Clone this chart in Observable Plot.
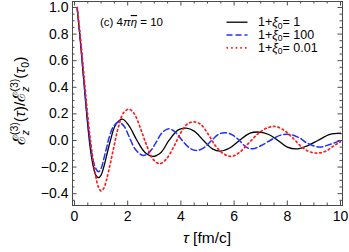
<!DOCTYPE html>
<html><head><meta charset="utf-8">
<script src="https://cdn.jsdelivr.net/npm/d3@7"></script>
<script src="https://cdn.jsdelivr.net/npm/@observablehq/plot@0.6"></script>
<style>
body{margin:0;background:#fff}
svg{font-family:"Liberation Sans",Arial,sans-serif}
</style>
</head><body><div id="chart"></div>
<script>
// ---- data ----
const tauBlack = [0.1,0.2,0.3,0.4,0.5,0.6,0.7,0.8,0.9,1.0,1.1,1.2,1.35,1.55,1.8,2.05,2.35,2.65,2.95,3.25,3.55,3.9,4.2,4.5,4.85,5.2,5.5,5.85,6.2,6.6,6.95,7.3,7.65,8.0,8.4,8.75,9.15,9.6,10.0];
const valBlack = [1.0,0.79,0.56,0.33,0.11,-0.07,-0.19,-0.26,-0.28,-0.26,-0.2,-0.12,0.0,0.12,0.16,0.11,0.0,-0.09,-0.12,-0.09,0.0,0.08,0.093,0.07,0.0,-0.065,-0.08,-0.055,0.0,0.055,0.063,0.045,0.0,-0.05,-0.063,-0.04,0.0,0.045,0.055];

const tauBlue = [0.1,0.2,0.3,0.4,0.5,0.6,0.7,0.8,0.9,1.0,1.1,1.2,1.3,1.45,1.65,1.85,2.05,2.3,2.6,2.85,3.05,3.3,3.55,3.8,4.05,4.35,4.6,4.9,5.15,5.45,5.7,5.95,6.2,6.45,6.7,7.0,7.35,7.75,8.1,8.45,8.75,9.2,9.6,10.0];
const valBlue = [1.0,0.8,0.58,0.35,0.14,-0.03,-0.15,-0.21,-0.235,-0.21,-0.14,-0.06,0.02,0.1,0.138,0.11,0.03,-0.07,-0.113,-0.08,-0.02,0.06,0.088,0.06,0.0,-0.06,-0.075,-0.05,0.0,0.05,0.058,0.04,0.0,-0.05,-0.063,-0.04,0.0,0.04,0.045,0.02,-0.02,-0.05,-0.03,0.0];

const tauRed = [0.1,0.2,0.3,0.4,0.5,0.6,0.7,0.8,0.9,1.0,1.1,1.2,1.35,1.5,1.65,1.85,2.05,2.25,2.5,2.7,2.95,3.2,3.45,3.75,4.0,4.25,4.5,4.75,5.05,5.3,5.6,5.9,6.2,6.55,6.9,7.25,7.55,7.85,8.2,8.55,8.85,9.15,9.45,9.75,10.0];
const valRed = [1.0,0.82,0.61,0.39,0.18,0.0,-0.15,-0.27,-0.35,-0.38,-0.36,-0.3,-0.17,-0.03,0.1,0.21,0.235,0.2,0.08,-0.03,-0.14,-0.175,-0.14,-0.04,0.06,0.125,0.14,0.12,0.04,-0.04,-0.1,-0.12,-0.09,-0.02,0.05,0.095,0.105,0.08,0.02,-0.05,-0.085,-0.095,-0.08,-0.04,-0.01];

const seriesNames = ["1", "100", "0.01"];
const seriesColors = ["black", "#1f2fff", "#ff1a1a"];
const seriesDash = [null, "6,3", "1.6,3"];
const seriesWidth = [1.3, 1.5, 1.7];

const xTicks = [0, 2, 4, 6, 8, 10];
const xMinor = [0.5,1,1.5,2.5,3,3.5,4.5,5,5.5,6.5,7,7.5,8.5,9,9.5];
const yTicks = [-0.4, -0.2, 0.0, 0.2, 0.4, 0.6, 0.8, 1.0];
const yMinor = [-0.45,-0.35,-0.3,-0.25,-0.15,-0.1,-0.05,0.05,0.1,0.15,0.25,0.3,0.35,0.45,0.5,0.55,0.65,0.7,0.75,0.85,0.9,0.95];

// ---- build ----
const W = 349, H = 252, ML = 72, MR = 7, MT = 1, MB = 47;
const FW = W - ML - MR, FH = H - MT - MB;
const mk = (t, v) => t.map((d, i) => ({tau: d, val: v[i]}));
const series = [mk(tauBlack, valBlack), mk(tauBlue, valBlue), mk(tauRed, valRed)];
const frameCol = "#4a4a4a";

const lineMarks = series.map((s, i) => Plot.line(s, {
  x: "tau", y: "val", curve: "catmull-rom",
  stroke: seriesColors[i], strokeWidth: seriesWidth[i],
  strokeDasharray: seriesDash[i] ?? undefined
}));

const legendSym = {draw(ctx) { ctx.moveTo(-10.5, 0); ctx.lineTo(10.5, 0); }};
const legendMarks = seriesNames.map((n, i) => Plot.dot([n], {
  frameAnchor: "top-left", dx: 164.5, dy: 20.7 + 12.8 * i,
  symbol: legendSym, fill: "none", stroke: seriesColors[i],
  strokeWidth: seriesWidth[i], strokeDasharray: seriesDash[i] ?? undefined
}));

const chart = Plot.plot({
  width: W, height: H,
  marginLeft: ML, marginRight: MR, marginTop: MT, marginBottom: MB,
  x: {domain: [-0.075, 10.075]},
  y: {domain: [-0.489, 1.045]},
  style: {fontFamily: "'Liberation Sans', Arial, sans-serif", background: "white", color: "black"},
  marks: [
    Plot.tickX(xTicks, {x: d => d, insetTop: FH - 4.5, stroke: frameCol}),
    Plot.tickX(xTicks, {x: d => d, insetBottom: FH - 4.5, stroke: frameCol}),
    Plot.tickX(xMinor, {x: d => d, insetTop: FH - 2.5, stroke: frameCol}),
    Plot.tickX(xMinor, {x: d => d, insetBottom: FH - 2.5, stroke: frameCol}),
    Plot.tickY(yTicks, {y: d => d, insetRight: FW - 4.5, stroke: frameCol}),
    Plot.tickY(yTicks, {y: d => d, insetLeft: FW - 4.5, stroke: frameCol}),
    Plot.tickY(yMinor, {y: d => d, insetRight: FW - 2.5, stroke: frameCol}),
    Plot.tickY(yMinor, {y: d => d, insetLeft: FW - 2.5, stroke: frameCol}),
    Plot.axisX({ticks: xTicks, tickSize: 0, tickPadding: 6, fontSize: 14, label: null, tickFormat: d3.format("d")}),
    Plot.axisY({ticks: yTicks, tickSize: 0, tickPadding: 4, fontSize: 14, label: null, tickFormat: d3.format(".1f")}),
    ...lineMarks,
    ...legendMarks,
    Plot.frame({stroke: frameCol})
  ]
});
document.getElementById("chart").appendChild(chart);

// ---- rich texts (legend labels, annotation, axis titles) ----
const svg = d3.select(chart);
seriesNames.forEach((n, i) => {
  const t = svg.append("text").attr("x", 258).attr("y", 26 + 12.8 * i)
    .attr("text-anchor", "start").attr("font-size", 12.5).attr("fill", "black");
  t.append("tspan").text("1+");
  t.append("tspan").attr("font-style", "italic").text("ξ");
  t.append("tspan").attr("font-size", 8.5).attr("dy", 2.5).text("0");
  t.append("tspan").attr("dy", -2.5).text("= " + n);
});

const ann = svg.append("text").attr("x", 100).attr("y", 26).attr("text-anchor", "start")
  .attr("font-size", 11.5).attr("fill", "black");
ann.append("tspan").text("(c) 4");
ann.append("tspan").attr("font-style", "italic").text("π");
ann.append("tspan").attr("font-style", "italic").attr("text-decoration", "overline").text("η");
ann.append("tspan").text(" = 10");

const xl = svg.append("text").attr("x", ML + FW / 2).attr("y", 243).attr("text-anchor", "middle")
  .attr("font-size", 15.5).attr("fill", "black");
xl.append("tspan").attr("font-style", "italic").text("τ");
xl.append("tspan").text(" [fm/c]");

const yl = svg.append("text").attr("transform", `translate(25,${MT + 100}) rotate(-90)`)
  .attr("text-anchor", "middle").attr("font-size", 15.5).attr("fill", "black");
function eTerm(g) {
  g.append("tspan").attr("font-size", 17).text("ℰ");
  g.append("tspan").attr("font-size", 10.5).attr("font-style", "italic").attr("dy", 4).text("z");
  g.append("tspan").attr("font-size", 10.5).attr("dx", -5).attr("dy", -11).text("(3)");
}
eTerm(yl);
yl.append("tspan").attr("dy", 7).text("(");
yl.append("tspan").attr("font-style", "italic").text("τ");
yl.append("tspan").text(")/");
eTerm(yl);
yl.append("tspan").attr("dy", 7).text("(");
yl.append("tspan").attr("font-style", "italic").text("τ");
yl.append("tspan").attr("font-size", 10.5).attr("dy", 3.5).text("0");
yl.append("tspan").attr("dy", -3.5).text(")");
</script>
</body></html>
